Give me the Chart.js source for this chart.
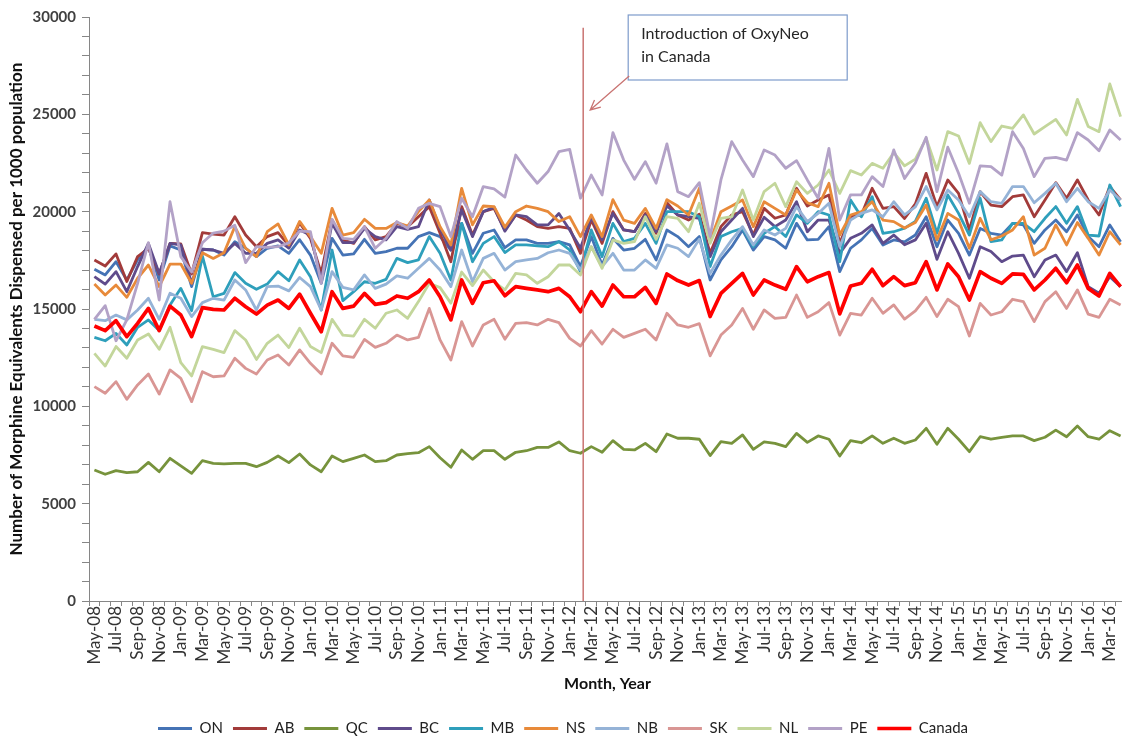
<!DOCTYPE html>
<html>
<head>
<meta charset="utf-8">
<title>Morphine equivalents dispensed per 1000 population</title>
<script src="https://cdn.jsdelivr.net/npm/chart.js@4.4.1/dist/chart.umd.min.js"></script>
<style>
  html, body { margin: 0; padding: 0; background: #fff; overflow: hidden; }
  #chart { position: absolute; left: 0; top: 0; }
</style>
</head>
<body>
<!-- canvas is a bit larger than the window: the original picture is cropped at right/bottom -->
<canvas id="chart" width="1126" height="746"></canvas>
<script>
// one row per year, May to April
const months = [
  'May-08','Jun-08','Jul-08','Aug-08','Sep-08','Oct-08','Nov-08','Dec-08','Jan-09','Feb-09','Mar-09','Apr-09',
  'May-09','Jun-09','Jul-09','Aug-09','Sep-09','Oct-09','Nov-09','Dec-09','Jan-10','Feb-10','Mar-10','Apr-10',
  'May-10','Jun-10','Jul-10','Aug-10','Sep-10','Oct-10','Nov-10','Dec-10','Jan-11','Feb-11','Mar-11','Apr-11',
  'May-11','Jun-11','Jul-11','Aug-11','Sep-11','Oct-11','Nov-11','Dec-11','Jan-12','Feb-12','Mar-12','Apr-12',
  'May-12','Jun-12','Jul-12','Aug-12','Sep-12','Oct-12','Nov-12','Dec-12','Jan-13','Feb-13','Mar-13','Apr-13',
  'May-13','Jun-13','Jul-13','Aug-13','Sep-13','Oct-13','Nov-13','Dec-13','Jan-14','Feb-14','Mar-14','Apr-14',
  'May-14','Jun-14','Jul-14','Aug-14','Sep-14','Oct-14','Nov-14','Dec-14','Jan-15','Feb-15','Mar-15','Apr-15',
  'May-15','Jun-15','Jul-15','Aug-15','Sep-15','Oct-15','Nov-15','Dec-15','Jan-16','Feb-16','Mar-16','Apr-16'
];

const on = [
  17040,16750,17430,16490,17520,18200,16490,18240,18030,16150,18070,18030,
  17770,18460,18120,17690,18120,18240,17860,18560,17770,16320,18630,17770,
  17830,18580,17860,17950,18120,18120,18720,18920,18720,18030,19400,17860,
  18890,19060,18150,18550,18550,18370,18370,18460,18290,17180,18720,17260,
  18630,18030,18120,18580,17520,19060,18720,18200,18720,16490,17520,18200,
  19060,18030,18720,18550,18120,19400,18550,18580,19230,16920,18120,18550,
  19140,18290,18550,18450,18800,19740,18200,19570,18890,17770,19140,18890,
  18800,19400,19320,18370,19060,19570,18970,19830,18720,18200,19320,18460
];
const ab = [
  17520,17210,17830,16410,17690,18120,16800,18370,18340,16800,18920,18850,
  18800,19740,18800,18200,18720,18920,18270,19420,18630,16830,19570,18550,
  18370,19230,18550,18720,19400,19230,19740,20260,18890,17430,20260,18800,
  20000,20170,19050,19830,19570,19230,19140,19230,19140,17860,19570,18370,
  20000,19060,18970,19910,18890,20460,19830,19570,19870,17860,19230,19830,
  20000,18800,20170,19660,19830,21200,20290,20600,20860,18370,19740,19830,
  21200,20170,20260,19650,20400,21970,20260,21630,20940,19060,21030,20340,
  20260,20770,20860,19740,20600,21490,20690,21630,20600,19830,21290,20600
];
const qc = [
  6730,6510,6700,6590,6640,7120,6640,7330,6940,6560,7210,7070,
  7040,7070,7070,6900,7120,7450,7110,7550,6990,6640,7450,7160,
  7330,7500,7160,7210,7500,7570,7620,7930,7360,6870,7760,7280,
  7720,7720,7280,7640,7720,7890,7890,8170,7720,7590,7930,7640,
  8240,7790,7760,8100,7670,8580,8360,8360,8310,7470,8190,8100,
  8530,7790,8170,8100,7930,8610,8150,8480,8310,7450,8240,8130,
  8480,8100,8360,8100,8270,8870,8050,8870,8310,7670,8440,8310,
  8410,8480,8480,8240,8410,8780,8440,8990,8440,8310,8750,8480
];
const bc = [
  16660,16280,16920,15890,17180,18370,16830,18370,18290,16320,18070,18030,
  17860,18370,17860,17860,18370,18550,18120,19060,18800,16490,19400,18410,
  18410,19140,18720,18550,19230,19090,19230,20600,19140,18030,20090,18720,
  20000,20230,19000,19830,19740,19320,19320,19910,19060,18120,19740,18550,
  19910,19060,18970,19830,18970,20290,19830,19740,19660,17690,18970,19570,
  20170,18720,19710,19230,19570,20510,18970,19570,19570,17860,18630,18890,
  19320,18370,18800,18300,18550,19400,17550,18970,17860,16580,18200,17950,
  17430,17720,17770,16660,17520,17770,16920,17890,16150,15810,16660,16150
];
const mb = [
  13540,13370,13750,13150,14060,14440,13900,15200,16060,14910,17720,15630,
  15800,16870,16320,16010,16280,16920,16450,17520,16660,14950,18030,15430,
  15890,16400,16320,16520,17600,17380,17520,18720,17860,16490,19400,17430,
  18370,18720,17900,18290,18290,18240,18200,18460,18030,16920,19060,17690,
  19400,18460,18630,19400,18370,20000,20000,20000,19740,17180,18720,18970,
  19140,18200,18890,19230,18720,19830,19400,20000,19830,17430,20600,19740,
  20770,18890,18970,19150,19500,20690,18890,20860,19910,18800,20690,18460,
  18550,19400,19400,18970,19660,20260,19400,20260,18800,18750,21370,20260
];
const ns = [
  16280,15720,16230,15600,16580,17260,16150,17310,17310,16320,17890,17600,
  17890,19230,18120,17690,18970,19370,18290,19500,18720,17860,20170,18800,
  18920,19610,19140,19140,19440,19260,20000,20600,19230,18290,21200,19320,
  20290,20260,19200,20000,20290,20170,20000,19490,19740,18720,19830,18720,
  20620,19570,19400,20170,19140,20620,20290,19830,21200,18500,20000,20290,
  20600,19230,20510,20170,19830,21110,20460,20260,21460,18800,19830,20000,
  20510,19570,19490,19160,19440,20340,18550,19910,19570,18120,19660,18550,
  18750,19060,19740,17770,18120,19320,18290,19440,18630,17770,18970,18290
];
const nb = [
  14470,14400,14690,14440,14950,15550,14470,15810,15550,14610,15330,15550,
  15460,16490,15980,14950,16150,16180,15930,16620,16150,14950,16920,16110,
  15980,16750,16060,16280,16700,16580,17090,17600,17000,16150,18030,16410,
  17600,17860,17000,17430,17520,17600,17890,18030,17860,17000,18200,17180,
  17860,17000,17000,17520,17090,18290,18120,17690,18590,16830,17770,18550,
  19230,18290,19060,18800,19140,20260,19490,19910,20430,18200,19570,19910,
  20090,19740,20510,19830,20250,21290,20090,21110,20600,19740,21030,20510,
  20430,21290,21290,20460,20940,21460,20510,21200,20510,20170,21110,20600
];
const sk = [
  11010,10670,11270,10360,11100,11660,10630,11870,11440,10240,11780,11520,
  11560,12470,11950,11660,12380,12640,12120,12900,12210,11660,13240,12590,
  12520,13440,13030,13240,13660,13410,13540,15030,13410,12380,14350,13100,
  14180,14470,13450,14260,14300,14180,14470,14300,13490,13100,13890,13200,
  13960,13540,13750,13960,13410,14780,14180,14060,14250,12590,13660,14180,
  15030,13960,14950,14520,14570,15720,14570,14860,15330,13660,14780,14690,
  15550,14780,15210,14480,14900,15600,14610,15500,15120,13610,15290,14690,
  14860,15500,15380,14350,15380,15890,15030,15980,14740,14570,15500,15210
];
const nl = [
  12720,12070,13070,12470,13410,13720,12930,14060,12240,11560,13070,12930,
  12760,13890,13410,12410,13240,13660,13020,14010,13070,12760,14470,13660,
  13610,14470,14010,14780,14950,14520,15380,16320,16100,15300,16900,16200,
  17000,16400,15980,16830,16750,16320,16660,17260,17260,16750,18200,17090,
  18550,18370,18460,19740,18580,19740,19660,18970,20430,18370,19660,19740,
  21110,19570,21030,21460,20260,21540,20940,21370,22140,20940,22110,21880,
  22480,22230,23030,22350,22700,23770,22140,24110,23890,22480,24570,23600,
  24400,24280,24970,23990,24370,24740,23940,25770,24370,24110,26560,24880
];
const pe = [
  14470,15170,13370,14440,16320,18410,15460,20510,17690,16900,18400,18900,
  19000,19300,17380,18200,18170,18200,18400,19000,18970,16320,19610,18630,
  18580,19230,18120,18630,19490,19140,20170,20430,20260,18720,20690,19740,
  21290,21170,20750,22910,22140,21460,22060,23080,23200,20690,21880,20860,
  24060,22650,21660,22570,21460,23480,21030,20770,21490,18720,21630,23600,
  22650,21800,23170,22910,22230,22620,21630,20690,23250,19570,20860,20860,
  21800,21290,23170,21700,22500,23820,21030,23310,21970,20430,22350,22310,
  21880,24110,23250,21800,22740,22790,22650,24060,23680,23130,24200,23680
];
const canada = [
  14130,13890,14400,13580,14260,15030,13890,15150,14690,13580,15070,14980,
  14950,15550,15120,14740,15200,15460,15030,15760,14780,13830,15890,15030,
  15150,15800,15240,15330,15670,15550,15890,16490,15630,14440,16490,15290,
  16350,16450,15680,16150,16060,15980,15890,16060,15630,14860,15890,15150,
  16230,15630,15630,16110,15290,16800,16460,16230,16460,14610,15800,16320,
  16830,15720,16490,16230,16010,17180,16400,16660,16870,14750,16180,16320,
  17040,16200,16660,16200,16350,17430,15980,17310,16660,15460,16920,16580,
  16320,16800,16780,15980,16490,17090,16350,17260,16060,15670,16830,16150
];

const seriesNames = ['ON','AB','QC','BC','MB','NS','NB','SK','NL','PE','Canada'];
const seriesData = [on, ab, qc, bc, mb, ns, nb, sk, nl, pe, canada];
const seriesColors = ['#4573B5','#A23B3A','#77933C','#5F4B8B','#2E9FBB','#E88A3A',
                      '#95B3D7','#D99694','#C3D69B','#B3A2C7','#FF0000'];

const yTitle = 'Number of Morphine Equivalents Dispensed per 1000 population';
const xTitle = 'Month, Year';
const calloutLines = ['Introduction of OxyNeo', 'in Canada'];
const oxyNeoIndex = 45.25;   // just after Feb-12

const FONT = 'Lato';

// vertical marker + callout box
const oxyNeo = {
  id: 'oxyNeo',
  afterDatasetsDraw(chart) {
    const {ctx, scales: {x, y}} = chart;
    const i0 = Math.floor(oxyNeoIndex);
    const a = x.getPixelForValue(i0), b = x.getPixelForValue(i0 + 1);
    const lx = a + (b - a) * (oxyNeoIndex - i0);
    ctx.save();
    ctx.strokeStyle = '#C97472';
    ctx.lineWidth = 1.5;
    ctx.beginPath();
    ctx.moveTo(lx, y.getPixelForValue(29450));
    ctx.lineTo(lx, y.bottom);
    ctx.stroke();

    const bx = lx + 45, by = 15, bw = 219, bh = 65;
    ctx.fillStyle = '#fff';
    ctx.fillRect(bx, by, bw, bh);
    ctx.strokeStyle = '#7D9BCB';
    ctx.lineWidth = 1.2;
    ctx.strokeRect(bx, by, bw, bh);
    ctx.fillStyle = '#262626';
    ctx.font = '16px ' + FONT;
    ctx.textBaseline = 'middle';
    ctx.fillText(calloutLines[0], bx + 13, by + 19);
    ctx.fillText(calloutLines[1], bx + 13, by + 42);

    // arrow from box corner to the line
    const sx = bx + 1, sy = by + bh - 4, tx = lx + 7, ty = 110;
    const ang = Math.atan2(ty - sy, tx - sx);
    ctx.strokeStyle = '#C97472';
    ctx.lineWidth = 1.3;
    ctx.beginPath();
    ctx.moveTo(sx, sy);
    ctx.lineTo(tx, ty);
    ctx.moveTo(tx - 11 * Math.cos(ang - 0.45), ty - 11 * Math.sin(ang - 0.45));
    ctx.lineTo(tx, ty);
    ctx.lineTo(tx - 11 * Math.cos(ang + 0.45), ty - 11 * Math.sin(ang + 0.45));
    ctx.stroke();
    ctx.restore();
  }
};

const datasets = seriesNames.map((name, i) => ({
  label: name,
  data: seriesData[i],
  borderColor: seriesColors[i],
  backgroundColor: seriesColors[i],
  pointBorderColor: seriesColors[i],
  pointBackgroundColor: seriesColors[i],
  borderWidth: name === 'Canada' ? 3.7 : 2.8,
  pointBorderWidth: name === 'Canada' ? 3.7 : 2.8,
  pointRadius: 0,
  pointHoverRadius: 0,
  pointStyle: 'line',
  borderJoinStyle: 'round',
  tension: 0,
  fill: false,
  order: seriesNames.length - i   // later series on top, like the original
}));

new Chart(document.getElementById('chart'), {
  type: 'line',
  data: { labels: months, datasets: datasets },
  options: {
    responsive: false,
    animation: false,
    devicePixelRatio: 1,
    layout: { padding: { top: 17, left: 0, right: 0, bottom: 0 } },
    plugins: {
      tooltip: { enabled: false },
      legend: {
        position: 'bottom',
        labels: {
          usePointStyle: true,
          pointStyleWidth: 34,
          padding: 10,
          color: '#222',
          font: { family: FONT, size: 15 },
          sort: (a, b) => a.datasetIndex - b.datasetIndex
        }
      }
    },
    scales: {
      x: {
        type: 'category',
        offset: true,
        afterFit: s => { s.height = 110; s.paddingLeft = 0; s.paddingRight = 0; },
        border: { color: '#868686', width: 1 },
        grid: { offset: true, drawOnChartArea: false, drawTicks: true, tickLength: 5, color: '#868686' },
        ticks: {
          autoSkip: false,
          maxRotation: 90,
          minRotation: 90,
          padding: 0,
          color: '#333',
          font: { family: FONT, size: 17 },
          callback: (v, i) => (i % 2 === 0 ? months[i] : '')
        },
        title: {
          display: true,
          text: xTitle,
          color: '#111',
          font: { family: FONT, size: 16, weight: 'bold' },
          padding: { top: 0, bottom: 18 }
        }
      },
      y: {
        min: 0,
        max: 30000,
        afterFit: s => { s.width = 89; },
        border: { color: '#868686', width: 1 },
        grid: { drawOnChartArea: false, drawTicks: true, tickLength: 7, color: '#868686' },
        ticks: {
          stepSize: 1000,
          autoSkip: false,
          padding: 6,
          color: '#404040',
          font: { family: FONT, size: 15, weight: 'bold' },
          callback: v => (v % 5000 === 0 ? String(v) : '')
        },
        title: {
          display: true,
          text: yTitle,
          color: '#111',
          font: { family: FONT, size: 17, weight: 'bold' },
          padding: { top: 6, bottom: 0 }
        }
      }
    }
  },
  plugins: [oxyNeo]
});
</script>
</body>
</html>
